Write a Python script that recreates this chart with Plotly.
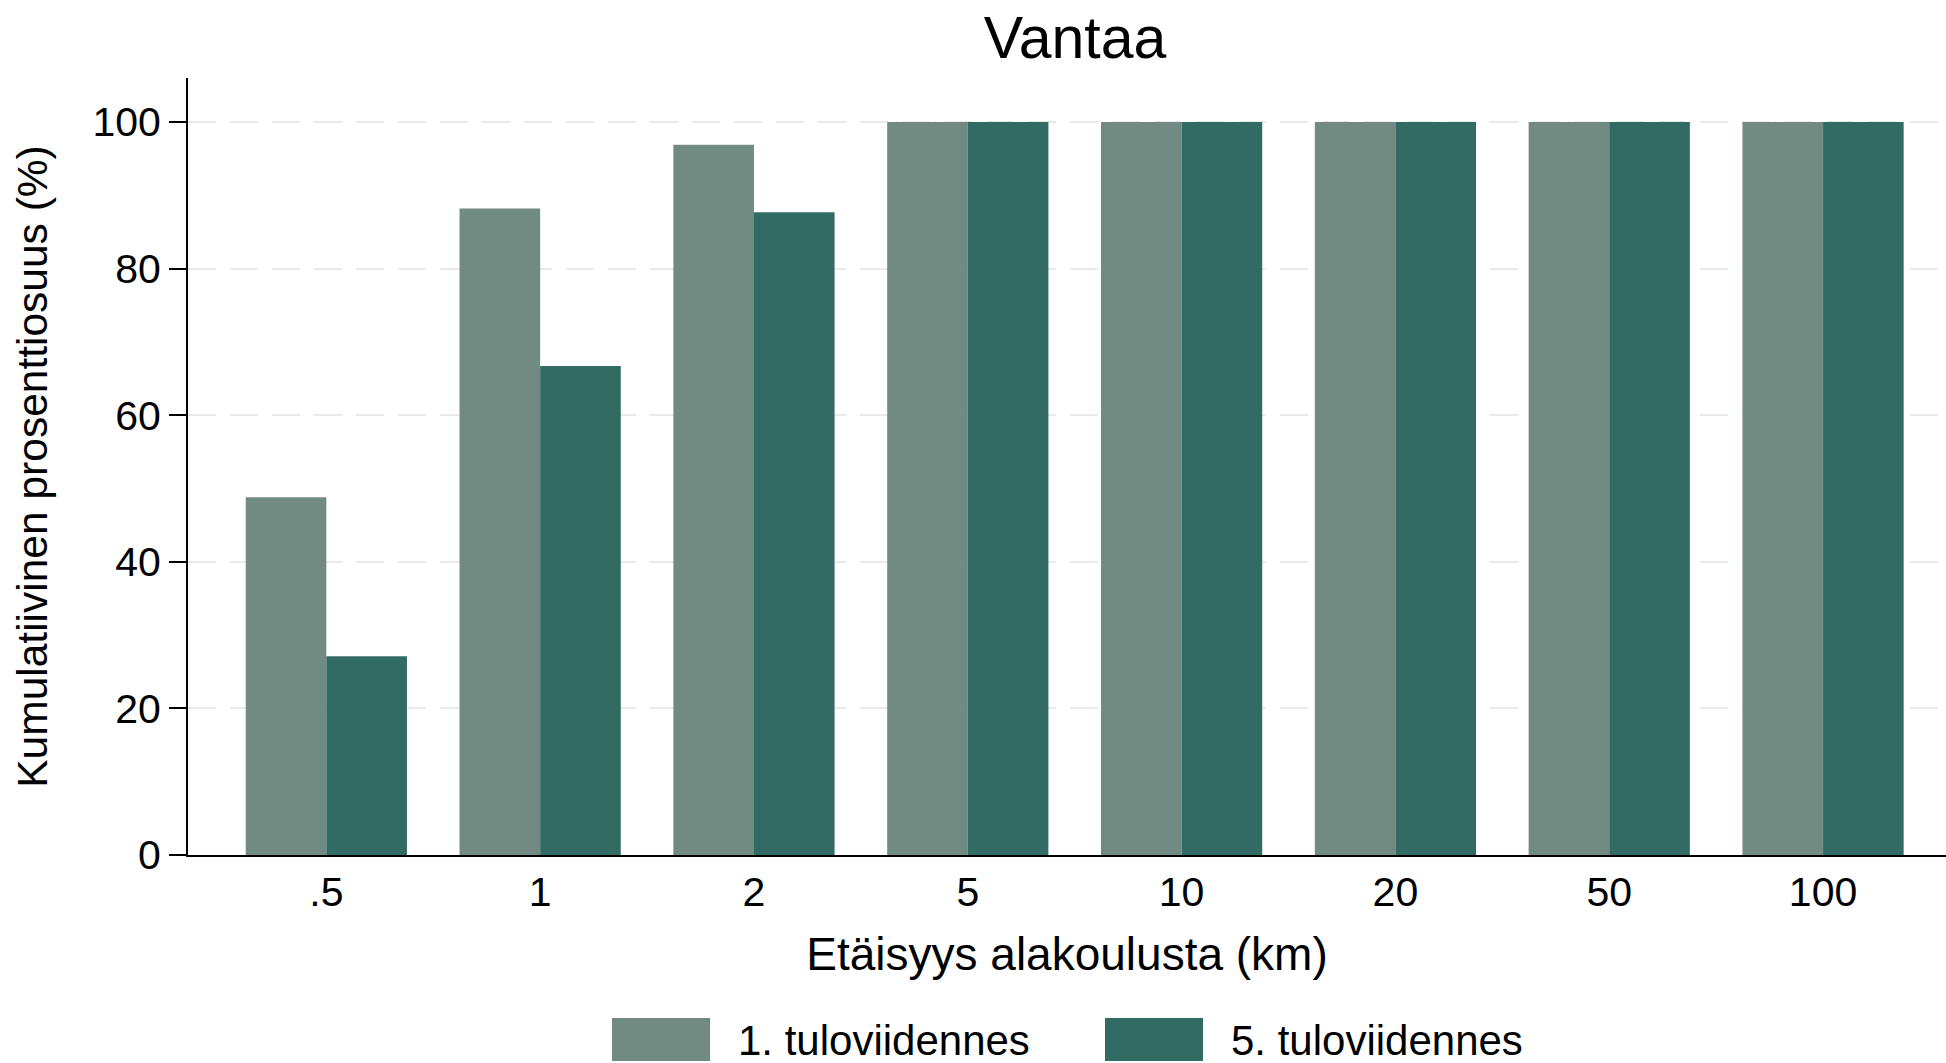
import plotly.graph_objects as go

# ---- data ----
categories = [".5", "1", "2", "5", "10", "20", "50", "100"]
series_names = ["1. tuloviidennes", "5. tuloviidennes"]
q1_values = [48.8, 88.2, 96.9, 100, 100, 100, 100, 100]
q5_values = [27.1, 66.7, 87.7, 100, 100, 100, 100, 100]
y_ticks = [0, 20, 40, 60, 80, 100]

title_text = "Vantaa"
x_title = "Etäisyys alakoulusta (km)"
y_title = "Kumulatiivinen prosenttiosuus (%)"

# ---- style ----
W, H = 1946, 1063
L, R, T, B = 188, 0, 78, 208
col_light = "#718b82"
col_dark = "#326b64"
FONT = "Liberation Sans, Arial, Helvetica, sans-serif"

fig = go.Figure()
fig.add_trace(go.Bar(x=categories, y=q1_values, name=series_names[0],
                     marker=dict(color=col_light, line=dict(width=0)), showlegend=False))
fig.add_trace(go.Bar(x=categories, y=q5_values, name=series_names[1],
                     marker=dict(color=col_dark, line=dict(width=0)), showlegend=False))

pw = W - L - R
ph = H - T - B


def px_x(px):
    return (px - L) / pw


def px_y(py):
    return (H - B - py) / ph


# custom legend (big swatches like the original)
legend_items = [
    (612, 710, 736, series_names[0], col_light),
    (1105, 1203, 1229, series_names[1], col_dark),
]
shapes = []
annotations = []
for x0, x1, tx, name, col in legend_items:
    shapes.append(dict(type="rect", xref="paper", yref="paper",
                       x0=px_x(x0), x1=px_x(x1), y0=px_y(1061), y1=px_y(1018),
                       fillcolor=col, line=dict(width=0)))
    annotations.append(dict(xref="paper", yref="paper", x=px_x(tx), y=px_y(1040),
                            xanchor="left", yanchor="middle", showarrow=False,
                            text=name, font=dict(size=42, color="black", family=FONT)))

fig.update_layout(
    width=W, height=H,
    margin=dict(l=L, r=R, t=T, b=B, pad=0),
    paper_bgcolor="white", plot_bgcolor="white",
    font=dict(family=FONT, color="black"),
    barmode="group", bargap=0.246, bargroupgap=0,
    title=dict(text=title_text, x=1075 / W, xref="container", xanchor="center",
               y=1 - 37 / H, yref="container", yanchor="middle",
               font=dict(size=59, color="black", family=FONT)),
    xaxis=dict(type="category", range=[-0.647, 7.575],
               showline=True, linecolor="black", linewidth=2,
               ticks="",
               tickfont=dict(size=41, color="black"),
               showgrid=False, zeroline=False, automargin=False,
               title=dict(text=x_title, font=dict(size=46, color="black"), standoff=24)),
    yaxis=dict(range=[0, 106], tickvals=y_ticks,
               showline=True, linecolor="black", linewidth=2,
               ticks="outside", ticklen=17, tickwidth=2, tickcolor="black",
               tickfont=dict(size=41, color="black"),
               showgrid=True, gridcolor="#e9e9e9", gridwidth=2, griddash="28px,14px",
               zeroline=False, automargin=False,
               title=dict(text=y_title, font=dict(size=42.5, color="black"), standoff=32)),
    shapes=shapes,
    annotations=annotations,
)

fig.write_html("out.html", config={"displayModeBar": False},
               post_script="document.body.style.margin='0';document.body.style.overflow='hidden';")
